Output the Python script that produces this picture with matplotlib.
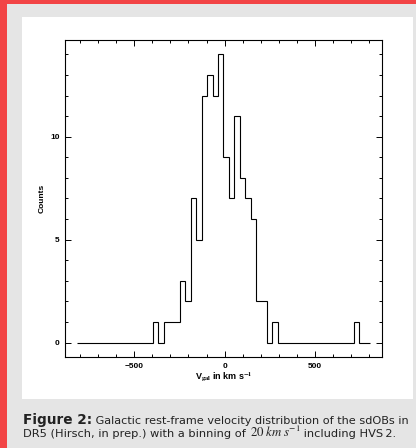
import numpy as np
import matplotlib
matplotlib.use("Agg")
import matplotlib.pyplot as plt
from matplotlib.patches import Rectangle

# DATA
# histogram of galactic rest-frame velocities (bin width)
bin_start = -817
bin_width = 30
counts = [0, 0, 0, 0, 0, 0, 0, 0, 0, 0, 0, 0, 0, 0,
          1, 0, 1, 1, 1, 3, 2, 7, 5, 12, 13, 12, 14, 9,
          7, 11, 8, 7, 6, 2, 2, 0, 1, 0, 0, 0, 0, 0,
          0, 0, 0, 0, 0, 0, 0, 0, 0, 1, 0, 0]
x_ticks = [-500, 0, 500]
y_ticks = [0, 5, 10]
caption_bold = "Figure 2:"
caption_line1 = " Galactic rest-frame velocity distribution of the sdOBs in"
caption_line2a = "DR5 (Hirsch, in prep.) with a binning of "
caption_math = r"$20\;km\;s^{-1}$"
caption_line2b = " including HVS\u20092."

W, H = 416, 448

plt.rcParams['font.family'] = ['Liberation Sans', 'DejaVu Sans']
plt.rcParams['mathtext.fontset'] = 'stix'


def put_text(fig, x_px, base_px, s, size, target_w=None, **kw):
    # place a caption piece, optionally rescaled so it spans target_w pixels
    t = fig.text(x_px / W, (H - base_px) / H, s, fontsize=size, va='baseline',
                 ha='left', color='#222222', **kw)
    fig.canvas.draw()
    if target_w is not None:
        w = t.get_window_extent().width
        t.set_fontsize(size * target_w / w)
        fig.canvas.draw()
    return t.get_window_extent().x1


def main() -> None:
    fig = plt.figure(figsize=(W / 100, H / 100), dpi=100)
    fig.patch.set_facecolor('#F24445')

    # gray card and white figure panel
    fig.patches.append(Rectangle((7 / W, 0), 1, (H - 4) / H, transform=fig.transFigure,
                                 facecolor='#E5E5E5', edgecolor='none', zorder=-3))
    fig.patches.append(Rectangle((22 / W, 49 / H), 391 / W, 382 / H, transform=fig.transFigure,
                                 facecolor='white', edgecolor='none', zorder=-2))

    ax = fig.add_axes([65 / W, 91 / H, 317.3 / W, 317 / H])
    edges = bin_start + bin_width * np.arange(len(counts) + 1)
    ax.stairs(counts, edges, color='black', linewidth=0.8)

    ax.set_xlim(-882, 871)
    ax.set_ylim(-0.7, 14.7)
    ax.set_xticks(x_ticks)
    ax.set_xticks(np.arange(-800, 801, 100), minor=True)
    ax.set_yticks(y_ticks)
    ax.set_yticks(np.arange(0, 15, 1), minor=True)
    ax.tick_params(which='both', direction='in', top=True, right=True, width=0.7,
                   labelsize=6)
    ax.tick_params(which='major', length=4.2, pad=4)
    ax.tick_params(which='minor', length=2)
    for lab in ax.get_xticklabels() + ax.get_yticklabels():
        lab.set_fontweight('bold')
    for sp in ax.spines.values():
        sp.set_linewidth(0.8)

    ax.set_xlabel(r"V$_{\mathbf{gal}}$ in km s$^{\mathbf{-1}}$", fontsize=6.5,
                  fontweight='bold', labelpad=1)
    ax.set_ylabel("Counts", fontsize=6, fontweight='bold', labelpad=3)

    # caption
    cap = ['DejaVu Sans']
    x1 = put_text(fig, 23, 424, caption_bold, 9.8, fontweight='bold', family=cap)
    put_text(fig, x1, 424, caption_line1, 8.0, target_w=410 - x1, family=cap)
    x2 = put_text(fig, 23, 437, caption_line2a, 8.2, family=cap)
    x3 = put_text(fig, x2, 437, caption_math, 9.3)
    put_text(fig, x3, 437, caption_line2b, 8.2, family=cap)

    fig.savefig("out.png", dpi=100)


if __name__ == "__main__":
    main()
